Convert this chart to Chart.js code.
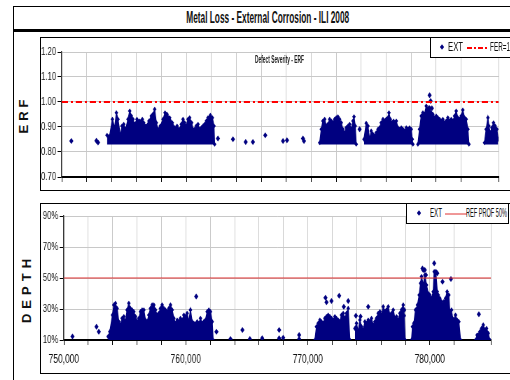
<!DOCTYPE html>
<html>
<head>
<meta charset="utf-8">
<script src="https://cdn.jsdelivr.net/npm/chart.js@4.4.1/dist/chart.umd.min.js"></script>
<style>
  body { margin: 0; background: #fff; width: 510px; height: 380px; overflow: hidden; position: relative;
         font-family: 'Liberation Sans', Arial, sans-serif; color: #111; }
  .frame { position: absolute; left: 13px; top: 6px; width: 520px; height: 400px; border-left: 1px solid #000; border-top: 1px solid #000; }
  .title { position: absolute; left: 13px; top: 7px; width: 510px; height: 22px; border-bottom: 3px solid #000;
           text-align: center; line-height: 22px; }
  .title span { display: inline-block; font-weight: bold; font-size: 17px; transform-origin: center; }
  .box { position: absolute; left: 40px; width: 480px; border: 1.5px solid #000; }
  .wrap { position: absolute; left: 40px; transform-origin: 0 0; }
  .ylab { position: absolute; font-weight: bold; font-size: 13px;
          transform: rotate(-90deg); transform-origin: center; white-space: nowrap; }
  .legend { position: absolute; background: #fff; border: 1px solid #000; height: 19px; }
  .legend .t { position: absolute; top: 3px; font-size: 12px; line-height: 13px; white-space: nowrap; transform-origin: 0 50%; }
  .legend .d { position: absolute; width: 4px; height: 4px; background: #000080; transform: scaleX(0.75) rotate(45deg); }
  .legend svg { position: absolute; }
  .fit { display: inline-block; white-space: nowrap; }
  .note { position: absolute; left: 255px; top: 53px; font-size: 11px; font-weight: bold; color: #222; transform-origin: 0 50%; }
</style>
</head>
<body>
<div class="frame"></div>
<div class="title"><span class="fit" data-w="163">Metal Loss - External Corrosion - ILI 2008</span></div>
<div class="box" style="top:37px;height:152px"></div>
<div class="box" style="top:203px;height:169px"></div>
<div class="ylab" style="left:4px;top:107px;letter-spacing:4px">ERF</div>
<div class="ylab" style="left:-8px;top:281px;letter-spacing:5px">DEPTH</div>
<div class="wrap" style="top:37px;transform:scaleX(0.7)"><canvas id="erf" width="671" height="153"></canvas></div>
<div class="wrap" style="top:203px;transform:scaleX(0.7)"><canvas id="depth" width="671" height="170"></canvas></div>
<div class="note fit" data-w="49">Defect Severity - ERF</div>
<div class="legend" style="left:430px;top:37px;width:80px">
  <div class="d" style="left:9px;top:7px"></div>
  <div class="t fit" style="left:17px" data-w="15">EXT</div>
  <svg width="22" height="6" style="left:36px;top:7px"><line x1="0" y1="3" x2="22" y2="3" stroke="#f00" stroke-width="2" stroke-dasharray="5,2,2,2"/></svg>
  <div class="t fit" style="left:59px" data-w="20">FER=1</div>
</div>
<div class="legend" style="left:406px;top:203px;width:101px">
  <div class="d" style="left:10px;top:7px"></div>
  <div class="t fit" style="left:23px" data-w="12">EXT</div>
  <svg width="22" height="6" style="left:38px;top:7px"><line x1="0" y1="3" x2="22" y2="3" stroke="#e03030" stroke-width="1"/></svg>
  <div class="t fit" style="left:59px" data-w="41">REF PROF 50%</div>
</div>
<script>
// chainage in km (axis labels shown in metres)
const X_MIN = 750, X_MAX = 785;

// ERF chart: top outline of the dense clusters (null = gap)
const erfEnvX = [753.63,753.84,754.06,754.24,754.38,754.51,754.70,754.83,754.97,755.13,755.31,755.45,755.58,755.71,755.85,756.03,756.25,756.46,756.57,756.78,756.99,757.18,757.31,757.45,757.58,757.71,757.90,758.12,758.28,758.44,758.65,758.86,759.05,759.24,759.45,759.58,759.72,759.85,759.98,760.12,760.25,760.41,760.52,760.65,760.78,760.92,761.05,761.19,761.32,761.45,761.59,761.72,761.91,762.07,762.20,762.25,
  762.3,
  770.67,770.80,770.93,771.07,771.20,771.33,771.47,771.60,771.73,771.87,772.00,772.13,772.27,772.40,772.53,772.67,772.80,772.94,773.07,773.20,773.34,773.42,773.52,773.60,
  773.65,
  774.22,774.40,774.54,774.67,774.80,774.94,775.07,775.20,775.34,775.47,775.60,775.74,775.87,776.00,776.14,776.22,776.33,776.49,776.59,776.73,776.81,776.94,777.07,777.21,777.34,777.47,777.61,777.74,777.87,778.01,778.09,778.14,
  778.3,
  778.54,778.67,778.81,778.94,779.07,779.21,779.34,779.48,779.61,779.74,779.88,780.01,780.14,780.28,780.41,780.54,780.68,780.81,780.94,781.08,781.21,781.34,781.48,781.61,781.74,781.88,782.01,782.14,782.28,782.41,782.55,782.63,
  783.0,
  783.88,784.01,784.15,784.23,784.33,784.47,784.60,784.73,784.87,784.97];
const erfEnvY = [0.867,0.864,0.931,0.897,0.957,0.931,0.864,0.904,0.911,0.891,0.931,0.964,0.944,0.931,0.911,0.931,0.924,0.931,0.917,0.904,0.924,0.944,0.951,0.971,0.917,0.891,0.904,0.931,0.957,0.951,0.937,0.917,0.897,0.904,0.891,0.911,0.931,0.917,0.904,0.931,0.937,0.917,0.891,0.891,0.904,0.911,0.891,0.897,0.904,0.911,0.924,0.937,0.947,0.937,0.904,0.831,
  null,
  0.837,0.891,0.924,0.931,0.904,0.911,0.931,0.924,0.917,0.931,0.937,0.941,0.931,0.917,0.891,0.877,0.897,0.904,0.911,0.891,0.924,0.941,0.904,0.831,
  null,
  0.851,0.915,0.904,0.851,0.884,0.871,0.864,0.877,0.891,0.897,0.917,0.931,0.924,0.931,0.937,0.957,0.931,0.917,0.924,0.917,0.924,0.897,0.891,0.897,0.891,0.884,0.897,0.891,0.897,0.891,0.851,0.831,
  null,
  0.831,0.891,0.944,0.957,0.951,0.984,0.971,0.977,0.957,0.951,0.937,0.944,0.937,0.931,0.924,0.931,0.917,0.924,0.937,0.924,0.931,0.924,0.944,0.964,0.937,0.931,0.944,0.968,0.937,0.931,0.891,0.831,
  null,
  0.837,0.891,0.937,0.904,0.877,0.897,0.917,0.904,0.891,0.851];
// ERF chart: single defects
const erfPtX = [750.77,752.78,752.91,762.52,763.72,764.74,765.32,766.31,767.73,768.05,769.33,769.41,773.87,779.48,779.56,779.42,779.66];
const erfPtY = [0.844,0.845,0.838,0.854,0.851,0.840,0.840,0.867,0.844,0.847,0.854,0.844,0.891,1.027,1.004,0.975,0.975];
const ERF_LIMIT = 1.0;
const ERF_TICKS = [0.70, 0.80, 0.90, 1.00, 1.10, 1.20];

// DEPTH chart (% wall loss): top outline of the dense clusters (null = gap)
const depEnvX = [753.63,753.77,753.99,754.10,754.23,754.37,754.51,754.64,754.78,754.92,755.05,755.19,755.33,755.46,755.60,755.74,755.87,756.01,756.15,756.28,756.42,756.56,756.69,756.83,756.97,757.10,757.24,757.38,757.51,757.65,757.79,757.92,758.06,758.20,758.33,758.47,758.61,758.74,758.88,759.02,759.15,759.29,759.43,759.56,759.70,759.84,759.97,760.11,760.25,760.38,760.52,760.66,760.93,761.07,761.20,761.34,761.48,761.61,761.75,761.89,762.02,762.16,762.24,
  762.3,
  770.58,770.71,770.85,770.99,771.12,771.26,771.40,771.53,771.67,771.81,771.94,772.08,772.22,772.35,772.49,772.63,772.76,772.90,773.04,773.17,773.31,773.45,
  773.6,
  773.86,773.99,774.13,774.27,774.40,774.54,774.68,774.81,774.95,775.09,775.22,775.36,775.50,775.63,775.77,775.91,776.04,776.18,776.32,776.45,776.59,776.73,776.86,777.00,777.14,777.27,777.41,777.55,777.68,777.82,777.90,777.98,
  778.2,
  778.50,778.58,778.69,778.83,778.99,779.13,779.24,779.32,779.46,779.59,779.73,779.87,780.00,780.14,780.28,780.36,780.50,780.61,780.69,780.82,780.96,781.04,781.15,781.29,781.42,781.56,781.64,781.73,781.78,781.86,781.97,782.11,782.24,782.38,782.52,
  783.0,
  783.75,783.88,784.10,784.24,784.38,784.51,784.65,784.79,784.92];
const depEnvY = [12.2,15.4,26.1,32.6,33.7,30.4,21.8,19.7,24.0,25.1,21.8,29.4,33.7,30.4,29.4,28.3,25.1,21.8,24.0,28.3,29.4,29.4,22.9,21.8,26.1,30.4,32.6,32.6,29.4,26.1,27.2,30.4,32.6,30.4,29.4,28.3,30.4,32.6,29.4,24.0,20.8,22.9,21.8,24.0,22.9,26.1,25.1,27.2,21.8,29.4,21.8,20.8,21.8,20.8,24.0,20.8,21.8,22.9,28.3,29.4,28.3,21.8,10,
  null,
  10,18.6,20.8,22.9,21.8,20.8,24.0,25.1,26.1,25.1,24.0,22.9,25.1,24.0,22.9,21.8,26.1,27.2,24.0,27.2,30.4,10,
  null,
  17.5,20.8,15.4,22.9,18.6,16.5,21.8,20.8,22.9,21.8,24.0,19.7,21.8,24.0,27.2,28.3,26.1,31.5,28.3,29.4,31.5,26.1,27.2,29.4,24.0,25.1,22.9,27.2,29.4,32.6,25.7,10,
  null,
  10,18.6,20.8,29.4,32.6,39.0,46.6,50.9,45.5,51.9,45.5,40.1,39.0,36.9,41.2,54.1,53.0,41.2,39.0,36.9,34.7,32.6,34.7,36.9,41.2,39.0,28.3,26.1,29.4,24.0,22.9,26.1,22.9,21.8,10,
  null,
  10,13.2,15.4,17.5,19.7,16.5,17.5,14.3,10];
// DEPTH chart: single defects
const depPtX = [750.71,752.68,752.87,760.85,762.51,763.66,764.64,765.25,766.26,767.65,767.65,767.98,769.29,769.29,771.45,771.53,771.94,772.57,772.95,773.31,773.94,774.32,774.95,777.90,779.40,779.46,779.59,779.68,780.36,780.50,780.61,781.04,781.73,784.02];
const depPtY = [12.2,18.6,15.4,38.0,15.4,10.6,16.5,10.6,11.1,16.5,11.1,11.5,13.2,10.6,37.3,34.3,35.2,38.6,31.5,35.2,25.7,25.1,31.5,29.4,56.2,55.2,55.2,51.9,59.5,54.1,53.0,47.6,49.4,26.6];
const DEPTH_REF = 50;
const DEPTH_TICKS = [10, 30, 50, 70, 90];

const NAVY = '#000080';
Chart.defaults.font.family = "'Liberation Sans', Arial, sans-serif";
Chart.defaults.color = '#111';
Chart.defaults.animation = false;

// squeeze HTML labels to the narrow look of the original
document.querySelectorAll('.fit').forEach(el => {
  const w = el.getBoundingClientRect().width;
  el.style.transform = 'scaleX(' + (el.dataset.w / w) + ')';
});

function pts(xs, ys) { return xs.map((x, i) => ({ x: x, y: ys[i] })); }

function xScale(showLabels, height) {
  return {
    type: 'linear', min: X_MIN, max: X_MAX,
    grid: { color: '#c8c8c8', tickLength: 5, tickColor: '#000' },
    border: { color: '#000', width: 2 },
    ticks: {
      stepSize: 2, display: showLabels, padding: 7, maxRotation: 0, autoSkip: false,
      font: { size: 12 },
      callback: v => (v % 10 === 0 ? (v * 1000).toLocaleString('en-US') : '')
    },
    afterFit: s => { s.height = height; }
  };
}

function yScale(min, max, vals, fmt, width) {
  return {
    min: min, max: max,
    afterBuildTicks: s => { s.ticks = vals.map(v => ({ value: v })); },
    grid: { color: '#c8c8c8', tickLength: 6, tickColor: '#000' },
    border: { color: '#333', width: 1.4 },
    ticks: { padding: 2, font: { size: 11 }, callback: fmt },
    afterFit: s => { s.width = width; }
  };
}

function build(id, env, single, refLine, refStyle, yOpt, xOpt, pad, base) {
  new Chart(document.getElementById(id), {
    type: 'scatter',
    data: {
      datasets: [
        { data: refLine, showLine: true, pointRadius: 0, ...refStyle, order: 0 },
        { data: env, showLine: true, spanGaps: false, borderColor: NAVY, backgroundColor: NAVY, borderWidth: 1.4,
          pointStyle: 'rectRot', pointRadius: 2.6, pointBackgroundColor: NAVY, pointBorderWidth: 0,
          fill: { value: base }, order: 2 },
        { data: single, pointStyle: 'rectRot', pointRadius: 3, backgroundColor: NAVY, borderColor: NAVY,
          pointBorderWidth: 0, order: 1 }
      ]
    },
    options: {
      responsive: false,
      layout: { padding: pad },
      plugins: { legend: { display: false }, tooltip: { enabled: false } },
      scales: { x: xOpt, y: yOpt }
    }
  });
}

build('erf', pts(erfEnvX, erfEnvY), pts(erfPtX, erfPtY),
  [{ x: X_MIN, y: ERF_LIMIT }, { x: X_MAX, y: ERF_LIMIT }],
  { borderColor: '#ff0000', borderWidth: 2, borderDash: [9, 4, 3, 4] },
  yScale(0.7, 1.2, ERF_TICKS, v => v.toFixed(2), 31),
  xScale(false, 13), { left: 0, top: 15, right: 16, bottom: 0 }, 0.83);

build('depth', pts(depEnvX, depEnvY), pts(depPtX, depPtY),
  [{ x: X_MIN, y: DEPTH_REF }, { x: X_MAX, y: DEPTH_REF }],
  { borderColor: '#e03030', borderWidth: 1.2 },
  yScale(10, 90, DEPTH_TICKS, v => v + '%', 34),
  xScale(true, 33), { left: 0, top: 13, right: 27, bottom: 0 }, 10);
</script>
</body>
</html>
